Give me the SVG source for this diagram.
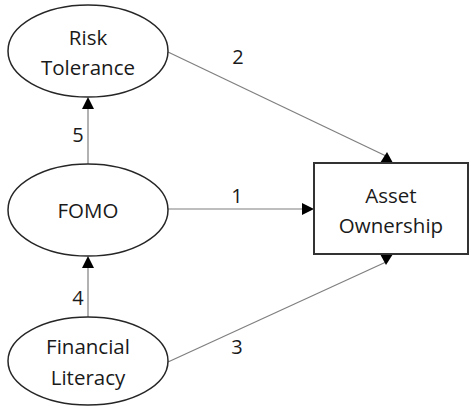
<svg xmlns="http://www.w3.org/2000/svg" width="471" height="406" viewBox="0 0 471 406">
  <style>
    .node { fill: #ffffff; stroke: #262626; stroke-width: 1.5; }
    .box { fill: #ffffff; stroke: #333333; stroke-width: 2; }
    .label { font-family: "Open Sans", "Noto Sans", sans-serif; font-size: 20.5px; fill: #1a1a1a; text-anchor: middle; }
    .num { font-family: "Open Sans", "Noto Sans", sans-serif; font-size: 20px; fill: #1a1a1a; text-anchor: middle; }
    .edge { stroke: #7f7f7f; stroke-width: 1.2; fill: none; }
    .head { fill: #000000; }
  </style>
  <rect width="471" height="406" fill="#ffffff"/>

  <g id="connectors">
    <!-- 2: Risk Tolerance -> Asset Ownership -->
    <line class="edge" x1="168" y1="52" x2="386" y2="156"/>
    <polygon class="head" points="387,152 393,163 380,163"/>
    <!-- 1: FOMO -> Asset Ownership -->
    <line class="edge" x1="168" y1="209" x2="304" y2="209"/>
    <polygon class="head" points="314,209 302,203 302,215"/>
    <!-- 3: Financial Literacy -> Asset Ownership -->
    <line class="edge" x1="168" y1="362" x2="386" y2="262"/>
    <polygon class="head" points="386,265 380,254 393,254"/>
    <!-- 5: FOMO -> Risk Tolerance -->
    <line class="edge" x1="88" y1="164" x2="88" y2="106"/>
    <polygon class="head" points="88,97 82,109 94,109"/>
    <!-- 4: Financial Literacy -> FOMO -->
    <line class="edge" x1="88" y1="317" x2="88" y2="264"/>
    <polygon class="head" points="88,256 82,268 94,268"/>
    <text class="num" x="238" y="64">2</text>
    <text class="num" x="237" y="203">1</text>
    <text class="num" x="237" y="354">3</text>
    <text class="num" x="78" y="142">5</text>
    <text class="num" x="78" y="305">4</text>
  </g>

  <g id="risk-tolerance">
    <ellipse class="node" cx="88" cy="51" rx="80" ry="46"/>
    <text class="label" x="88" y="45">Risk</text>
    <text class="label" x="88" y="75">Tolerance</text>
  </g>

  <g id="fomo">
    <ellipse class="node" cx="88" cy="210" rx="80" ry="46"/>
    <text class="label" x="88" y="218">FOMO</text>
  </g>

  <g id="financial-literacy">
    <ellipse class="node" cx="88" cy="361" rx="80" ry="44"/>
    <text class="label" x="88" y="354">Financial</text>
    <text class="label" x="88" y="385">Literacy</text>
  </g>

  <g id="asset-ownership">
    <rect class="box" x="314" y="163" width="154" height="91"/>
    <text class="label" x="391" y="203">Asset</text>
    <text class="label" x="391" y="233">Ownership</text>
  </g>
</svg>
